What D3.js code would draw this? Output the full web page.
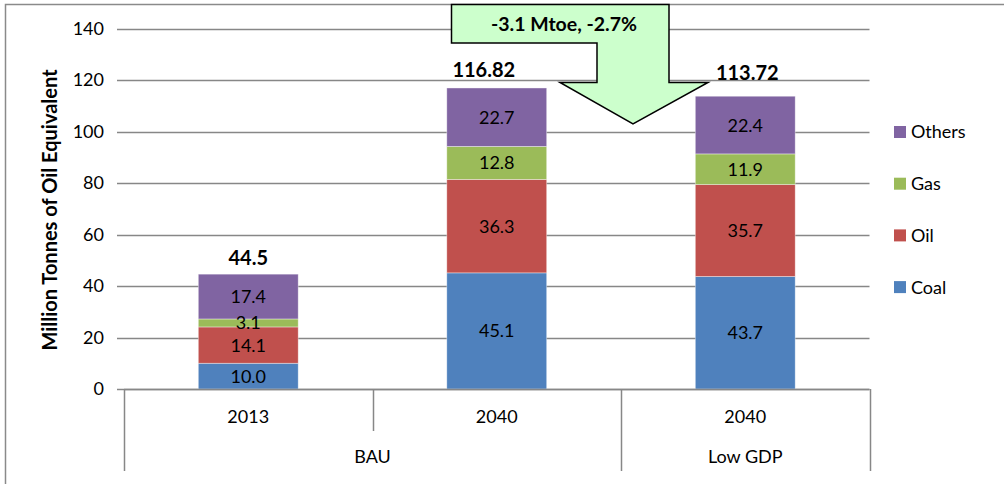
<!DOCTYPE html>
<html>
<head>
<meta charset="utf-8">
<script src="https://cdn.jsdelivr.net/npm/d3@7"></script>
<style>
  html, body { margin: 0; padding: 0; background: #fff; }
  svg { display: block; font-family: Lato, "Open Sans", sans-serif; }
</style>
</head>
<body>
<svg id="chart" width="1004" height="484"></svg>
<script>
// ---- data ----
const categories = ["2013", "2040", "2040"];
const groups = ["BAU", "BAU", "Low GDP"];
const groupLabels = ["BAU", "Low GDP"];
const seriesNames = ["Coal", "Oil", "Gas", "Others"];
const coal   = [10.0, 45.1, 43.7];
const oil    = [14.1, 36.3, 35.7];
const gas    = [3.1, 12.8, 11.9];
const others = [17.4, 22.7, 22.4];
const totals = ["44.5", "116.82", "113.72"];
const yTicks = [0, 20, 40, 60, 80, 100, 120, 140];
const calloutText = "-3.1 Mtoe, -2.7%";
const yTitle = "Million Tonnes of Oil Equivalent";

const colors = { Coal: "#4F81BD", Oil: "#C0504D", Gas: "#9BBB59", Others: "#8064A2" };
const seriesValues = { Coal: coal, Oil: oil, Gas: gas, Others: others };

const svg = d3.select("#chart");
const plotLeft = 124, plotRight = 869.5, plotTop = 28.5, plotBottom = 389;

// outer frame
svg.append("rect").attr("x", 5.5).attr("y", 4.5).attr("width", 1010).attr("height", 520)
  .attr("fill", "none").attr("stroke", "#8a8a8a").attr("stroke-width", 1.5);

const idx = categories.map((d, i) => i);
const x = d3.scaleBand().domain(idx).range([plotLeft, plotRight]).paddingInner(0.598).paddingOuter(0.299);
const y = d3.scaleLinear().domain([0, 140]).range([plotBottom, plotTop]);

// gridlines
svg.append("g").selectAll("line").data(yTicks).join("line")
  .attr("x1", plotLeft - 7).attr("x2", plotRight)
  .attr("y1", d => Math.round(y(d)) + 0.5).attr("y2", d => Math.round(y(d)) + 0.5)
  .attr("stroke", "#878787").attr("stroke-width", 1.5);

// y tick labels
svg.append("g").selectAll("text").data(yTicks).join("text")
  .attr("x", 104).attr("y", d => y(d)).attr("dy", "0.35em")
  .attr("text-anchor", "end").attr("font-size", 18).attr("fill", "#000")
  .text(d => d);

// y axis title
svg.append("text")
  .attr("transform", `translate(57,${(68 + 352) / 2}) rotate(-90)`)
  .attr("text-anchor", "middle").attr("font-size", 20).attr("font-weight", "bold")
  .text(yTitle);

// stacked data
const rows = idx.map(i => {
  const r = { i };
  seriesNames.forEach(s => r[s] = seriesValues[s][i]);
  return r;
});
const stack = d3.stack().keys(seriesNames)(rows);

const gBars = svg.append("g");
stack.forEach(layer => {
  const name = layer.key;
  gBars.append("g").selectAll("rect").data(layer).join("rect")
    .attr("x", d => x(d.data.i))
    .attr("width", x.bandwidth())
    .attr("y", d => y(d[1]))
    .attr("height", d => y(d[0]) - y(d[1]))
    .attr("fill", colors[name])
    .attr("stroke", "rgba(255,255,255,0.5)").attr("stroke-width", 0.75);
});
stack.forEach(layer => {
  gBars.append("g").selectAll("text").data(layer).join("text")
    .attr("x", d => x(d.data.i) + x.bandwidth() / 2)
    .attr("y", d => (y(d[0]) + y(d[1])) / 2)
    .attr("dy", "0.36em")
    .attr("text-anchor", "middle").attr("font-size", 18).attr("fill", "#000")
    .text(d => (d[1] - d[0]).toFixed(1));
});

// totals (label nudges as placed in the original)
const totalNudge = { 0: [0, -9], 1: [-13, -11], 2: [2, -16] };
svg.append("g").selectAll("text").data(rows).join("text")
  .attr("x", d => x(d.i) + x.bandwidth() / 2 + totalNudge[d.i][0])
  .attr("y", d => y(d3.sum(seriesNames, s => d[s])) + totalNudge[d.i][1])
  .attr("text-anchor", "middle").attr("font-size", 20).attr("font-weight", "bold")
  .text(d => totals[d.i]);

// x axis line
svg.append("line").attr("x1", plotLeft).attr("x2", plotRight).attr("y1", plotBottom + 0.5).attr("y2", plotBottom + 0.5)
  .attr("stroke", "#878787").attr("stroke-width", 1.5);

// category separators
const step = x.step();
const boundaries = d3.range(categories.length + 1).map(k => plotLeft + k * step);
boundaries.forEach((bx, k) => {
  const isGroupEdge = k === 0 || k === categories.length || groups[k - 1] !== groups[k];
  svg.append("line").attr("x1", Math.round(bx) + 0.5).attr("x2", Math.round(bx) + 0.5)
    .attr("y1", plotBottom).attr("y2", isGroupEdge ? 471 : 431)
    .attr("stroke", "#878787").attr("stroke-width", 1.5);
});

// category labels
svg.append("g").selectAll("text").data(idx).join("text")
  .attr("x", i => x(i) + x.bandwidth() / 2).attr("y", 423)
  .attr("text-anchor", "middle").attr("font-size", 18)
  .text(i => categories[i]);

// group labels
groupLabels.forEach(g => {
  const members = idx.filter(i => groups[i] === g);
  const x0 = plotLeft + d3.min(members) * step, x1 = plotLeft + (d3.max(members) + 1) * step;
  svg.append("text").attr("x", (x0 + x1) / 2).attr("y", 463)
    .attr("text-anchor", "middle").attr("font-size", 18).text(g);
});

// legend
const legendNames = seriesNames.slice().reverse();
const lg = svg.append("g").selectAll("g").data(legendNames).join("g")
  .attr("transform", (d, k) => `translate(894,${132 + k * 51.7})`);
lg.append("rect").attr("x", 0).attr("y", -6).attr("width", 12).attr("height", 12)
  .attr("fill", d => colors[d]);
lg.append("text").attr("x", 17).attr("y", 0).attr("dy", "0.36em")
  .attr("font-size", 18).text(d => d);

// callout arrow (annotation)
const arrow = d3.path();
arrow.moveTo(451.5, 4.5);
arrow.lineTo(669, 4.5);
arrow.lineTo(669, 82.5);
arrow.lineTo(708, 82.5);
arrow.lineTo(633, 124);
arrow.lineTo(560, 82.5);
arrow.lineTo(597, 82.5);
arrow.lineTo(597, 43);
arrow.lineTo(451.5, 43);
arrow.closePath();
svg.append("path").attr("d", arrow.toString())
  .attr("fill", "#CCFFCC").attr("stroke", "#000").attr("stroke-width", 1.5)
  .attr("stroke-linejoin", "miter");
svg.append("text").attr("x", 564).attr("y", 31)
  .attr("text-anchor", "middle").attr("font-size", 19.5).attr("font-weight", "bold")
  .text(calloutText);
</script>
</body>
</html>
